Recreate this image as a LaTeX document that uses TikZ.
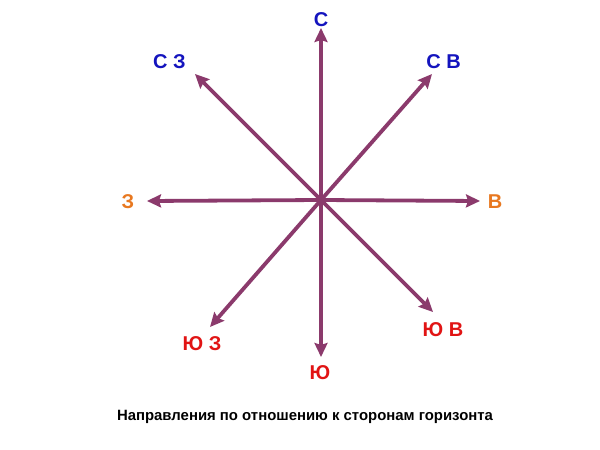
\documentclass[tikz,border=0pt]{standalone}
\usepackage{fontspec}
\setmainfont{Liberation Sans}
\usetikzlibrary{arrows.meta}
\definecolor{arr}{RGB}{139,58,108}
\definecolor{lblue}{RGB}{20,20,190}
\definecolor{lorange}{RGB}{232,120,32}
\definecolor{lred}{RGB}{225,20,20}
\tikzset{
  dirarrow/.style={draw=arr, line width=3.8pt, -{Stealth[length=14pt,width=13pt,inset=2pt]}},
  lbl/.style={font=\fontsize{20}{22}\selectfont\bfseries, inner sep=0pt},
  captext/.style={font=\fontsize{14.9}{16}\selectfont\bfseries, inner sep=0pt}
}
\begin{document}
\begin{tikzpicture}[x=1pt,y=-1pt]
\useasboundingbox (0,0) rectangle (600,450);
\fill[white] (0,0) rectangle (600,450);
\coordinate (o) at (321,200);
\coordinate (tN) at (321,28);
\coordinate (tNE) at (432,74);
\coordinate (tNW) at (195,74);
\coordinate (tE) at (480,201);
\coordinate (tW) at (147,201);
\coordinate (tSE) at (433,312);
\coordinate (tS) at (321,357);
\coordinate (tSW) at (210,327);
\foreach \t in {tN,tNE,tNW,tE,tW,tSE,tS,tSW}
  \draw[dirarrow] (o) -- (\t);
\fill[arr] (o) circle (4pt);
\node[lbl, text=lblue] (N) at (321,19.5) {С};
\node[lbl, text=lblue] (NW) at (169.5,62) {С З};
\node[lbl, text=lblue] (NE) at (443.5,62) {С В};
\node[lbl, text=lorange] (W) at (128,202) {З};
\node[lbl, text=lorange] (E) at (495,202) {В};
\node[lbl, text=lred] (SW) at (202,344) {Ю З};
\node[lbl, text=lred] (S) at (320,373) {Ю};
\node[lbl, text=lred] (SE) at (443,330) {Ю В};
\node[captext] (caption) at (305,417) {Направления по отношению к сторонам горизонта};
\end{tikzpicture}
\end{document}
